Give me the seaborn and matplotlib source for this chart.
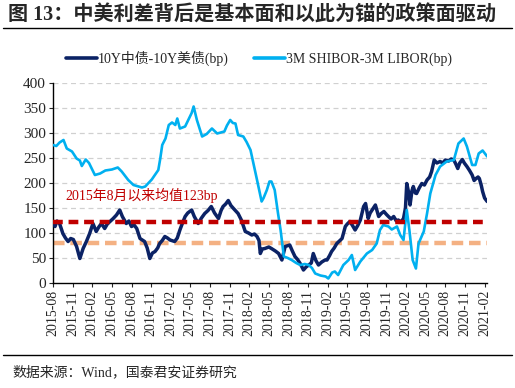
import numpy as np
import pandas as pd
import matplotlib
matplotlib.use("Agg")
import matplotlib.pyplot as plt
import seaborn as sns
from matplotlib.lines import Line2D

# months since 2015-08 and values (bp)
cn_us_m = [0, 0.3, 0.6, 1.0, 1.5, 1.9, 2.3, 2.7, 3.1, 3.6, 4.1, 4.6, 5.1, 5.6, 6.1, 6.6,
           7.0, 7.4, 7.9, 8.3, 8.7, 9.2, 9.7, 10.2, 10.6, 11.2, 11.6, 12.0, 12.4, 12.8,
           13.3, 14.0, 14.4, 14.8, 15.2, 15.6, 16.0, 16.3, 16.7, 17.1, 17.5, 17.9, 18.6,
           19.0, 19.4, 19.8, 20.2, 20.6, 20.9, 21.2, 21.6, 22.2, 22.7, 23.2, 23.7, 24.2,
           24.7, 25.3, 25.7, 26.0, 26.4, 26.8, 27.2, 27.6, 28.3, 28.8, 29.4, 29.9, 30.4,
           30.8, 31.2, 31.5, 31.7, 32.0, 32.4, 33.0, 33.4, 34.0, 34.5, 35.0, 35.5, 36.2,
           36.6, 37.0, 37.4, 37.8, 38.3, 38.7, 39.1, 39.5, 39.8, 40.2, 40.6, 41.1, 41.6,
           41.9, 42.3, 42.6, 43.0, 43.4, 43.8, 44.2, 44.7, 45.0, 45.4, 45.8, 46.2, 46.6,
           47.0, 47.5, 47.8, 48.2, 48.5, 48.8, 49.3, 49.8, 50.2, 50.6, 51.0, 51.3, 51.7,
           52.1, 52.5, 52.8, 53.2, 53.6, 53.9, 54.1, 54.4, 54.6, 54.9, 55.1, 55.4, 55.6,
           56.0, 56.4, 56.8, 57.2, 57.6, 57.9, 58.1, 58.3, 58.7, 59.2, 59.6, 60.0, 60.5,
           60.9, 61.3, 61.6, 61.9, 62.2, 62.6, 62.9, 63.3, 63.7, 64.1, 64.4, 64.7, 65.0,
           65.2, 65.5, 65.7, 66.0, 66.4]
cn_us_bp = [120, 113, 124, 119, 99, 90, 83, 89, 87, 73, 49, 69, 83, 99, 119, 103,
            112, 119, 109, 118, 123, 129, 136, 146, 133, 119, 124, 113, 116, 109,
            89, 83, 70, 49, 60, 63, 70, 79, 85, 93, 90, 86, 83,
            90, 106, 120, 133, 140, 143, 146, 133, 119, 130, 139, 145, 153,
            140, 129, 145, 153, 158, 165, 155, 149, 139, 126, 103, 100, 96,
            98, 93, 85, 59, 68, 69, 72, 69, 64, 59, 46, 73, 76,
            64, 53, 47, 39, 26, 32, 36, 40, 59, 45, 36, 42, 46,
            46, 55, 63, 70, 79, 84, 89, 113, 118, 123, 115, 106, 115,
            126, 153, 159, 129, 140, 146, 156, 133, 139, 143, 137, 133, 128,
            133, 124, 126, 122, 129, 150, 199, 180, 156, 185, 193, 180, 179,
            190, 199, 196, 206, 212, 223, 235, 246, 240, 243, 240, 246, 244,
            248, 246, 238, 229, 240, 247, 240, 233, 225, 216, 205, 209, 212,
            209, 195, 183, 170, 163]

shibor_m = [0, 0.5, 1.0, 1.6, 2.1, 2.9, 3.6, 4.1, 4.4, 5.0, 5.5, 6.4, 7.2, 8.0, 9.0,
            9.9, 10.5, 11.5, 12.3, 13.6, 14.1, 15.1, 16.1, 16.4, 16.7, 17.2, 17.7, 18.2,
            18.7, 19.0, 19.4, 20.2, 21.2, 21.5, 22.0, 22.8, 23.5, 24.3, 25.1, 26.2, 26.6,
            27.1, 27.5, 27.9, 28.3, 29.1, 29.6, 30.2, 31.2, 31.9, 32.2, 32.7, 33.1, 33.4,
            33.9, 34.4, 34.8, 35.3, 35.9, 36.5, 37.2, 37.8, 38.5, 39.1, 39.6, 40.1, 40.9,
            41.7, 42.1, 42.7, 43.1, 43.6, 44.4, 45.2, 45.7, 46.2, 47.0, 48.0, 48.8, 49.5,
            50.0, 50.5, 51.3, 51.8, 52.6, 53.1, 53.6, 54.1, 54.5, 55.0, 55.5, 55.9, 56.7,
            57.2, 57.7, 58.5, 59.2, 60.2, 61.3, 62.0, 62.8, 63.3, 64.1, 64.6, 65.1, 65.7,
            66.4]
shibor_bp = [276, 274, 281, 286, 269, 263, 249, 245, 234, 247, 240, 216, 219, 225, 227,
             231, 223, 206, 196, 191, 193, 207, 226, 249, 276, 289, 316, 321,
             316, 329, 309, 313, 340, 353, 326, 293, 298, 309, 299, 303, 315,
             326, 320, 319, 296, 293, 282, 266, 206, 163, 170, 186, 203, 203,
             186, 140, 106, 53, 50, 46, 40, 36, 38, 36, 30, 19, 15,
             13, 9, 21, 23, 16, 36, 46, 56, 26, 43, 59, 66, 79,
             106, 116, 113, 107, 113, 96, 86, 146, 106, 46, 29, 79, 103,
             139, 179, 216, 233, 243, 246, 279, 289, 273, 236, 236, 259, 265,
             253]

mean_level = 123
low_level = 80
tick_labels = ["2015-08", "2015-11", "2016-02", "2016-05", "2016-08", "2016-11",
               "2017-02", "2017-05", "2017-08", "2017-11", "2018-02", "2018-05",
               "2018-08", "2018-11", "2019-02", "2019-05", "2019-08", "2019-11",
               "2020-02", "2020-05", "2020-08", "2020-11", "2021-02"]

name_a = "10Y中债-10Y美债(bp)"
name_b = "3M SHIBOR-3M LIBOR(bp)"

df = pd.concat([
    pd.DataFrame({"m": cn_us_m, "bp": cn_us_bp, "series": name_a}),
    pd.DataFrame({"m": shibor_m, "bp": shibor_bp, "series": name_b}),
])

sns.set_style("white")
serif = ["Liberation Serif", "Noto Sans CJK SC"]
plt.rcParams["font.family"] = serif
plt.rcParams["axes.unicode_minus"] = False

fig = plt.figure(figsize=(5.15, 3.88), dpi=100)
ax = fig.add_axes([0.103, 0.2706, 0.843, 0.5155])

palette = {name_a: "#0b2265", name_b: "#00b0f0"}
sns.lineplot(data=df, x="m", y="bp", hue="series", palette=palette,
             estimator=None, sort=False, ax=ax, legend=False, zorder=3)
for ln, lw in zip(ax.get_lines(), [2.5, 1.9]):
    ln.set_linewidth(lw)

ax.axhline(mean_level, color="#c00000", lw=3.2, ls=(0, (2.2, 1.3)), zorder=4)
ax.axhline(low_level, color="#f4b183", lw=3.2, ls=(0, (2.6, 1.3)), zorder=2)

ax.text(0.028, 0.415, f"2015年8月以来均值{mean_level}bp", transform=ax.transAxes,
        color="#c00000", fontsize=10, family=serif)

ax.set_xlim(0, 66.4)
ax.set_ylim(0, 400)
ax.set_yticks(range(0, 401, 50))
ax.set_xticks(np.arange(len(tick_labels)) * 3)
ax.set_xticklabels(tick_labels, rotation=90, fontsize=10)
ax.tick_params(axis="y", labelsize=11, length=3, direction="out", left=True, pad=2)
ax.tick_params(axis="x", length=3, direction="out", bottom=True, pad=2)
ax.set_xlabel("")
ax.set_ylabel("")
for y in range(50, 401, 50):
    ax.axhline(y, color="#d0d0d0", lw=0.9, ls=(0, (4, 3)), zorder=1)
for s in ["top", "right"]:
    ax.spines[s].set_visible(False)
for s in ["left", "bottom"]:
    ax.spines[s].set_color("black")
    ax.spines[s].set_linewidth(1.0)

handles = [Line2D([], [], color=palette[name_a], lw=2.6),
           Line2D([], [], color=palette[name_b], lw=2.6)]
fig.legend(handles, [name_a, name_b], loc="center", bbox_to_anchor=(0.503, 0.85),
           ncol=2, frameon=False, handlelength=2.2, handletextpad=0.1,
           columnspacing=1.8, prop={"family": serif, "size": 10})

fig.text(0.016, 0.96, "图 13：中美利差背后是基本面和以此为锚的政策面驱动",
         fontsize=14.5, fontweight="bold", va="center", family=serif)
fig.add_artist(Line2D([0.006, 0.994], [0.928, 0.928], color="black", lw=1.0))
fig.add_artist(Line2D([0.006, 0.994], [0.085, 0.085], color="black", lw=1.0))
fig.text(0.025, 0.04, "数据来源：Wind，国泰君安证券研究", fontsize=10,
         va="center", family=serif)

fig.savefig("out.png", dpi=100)
